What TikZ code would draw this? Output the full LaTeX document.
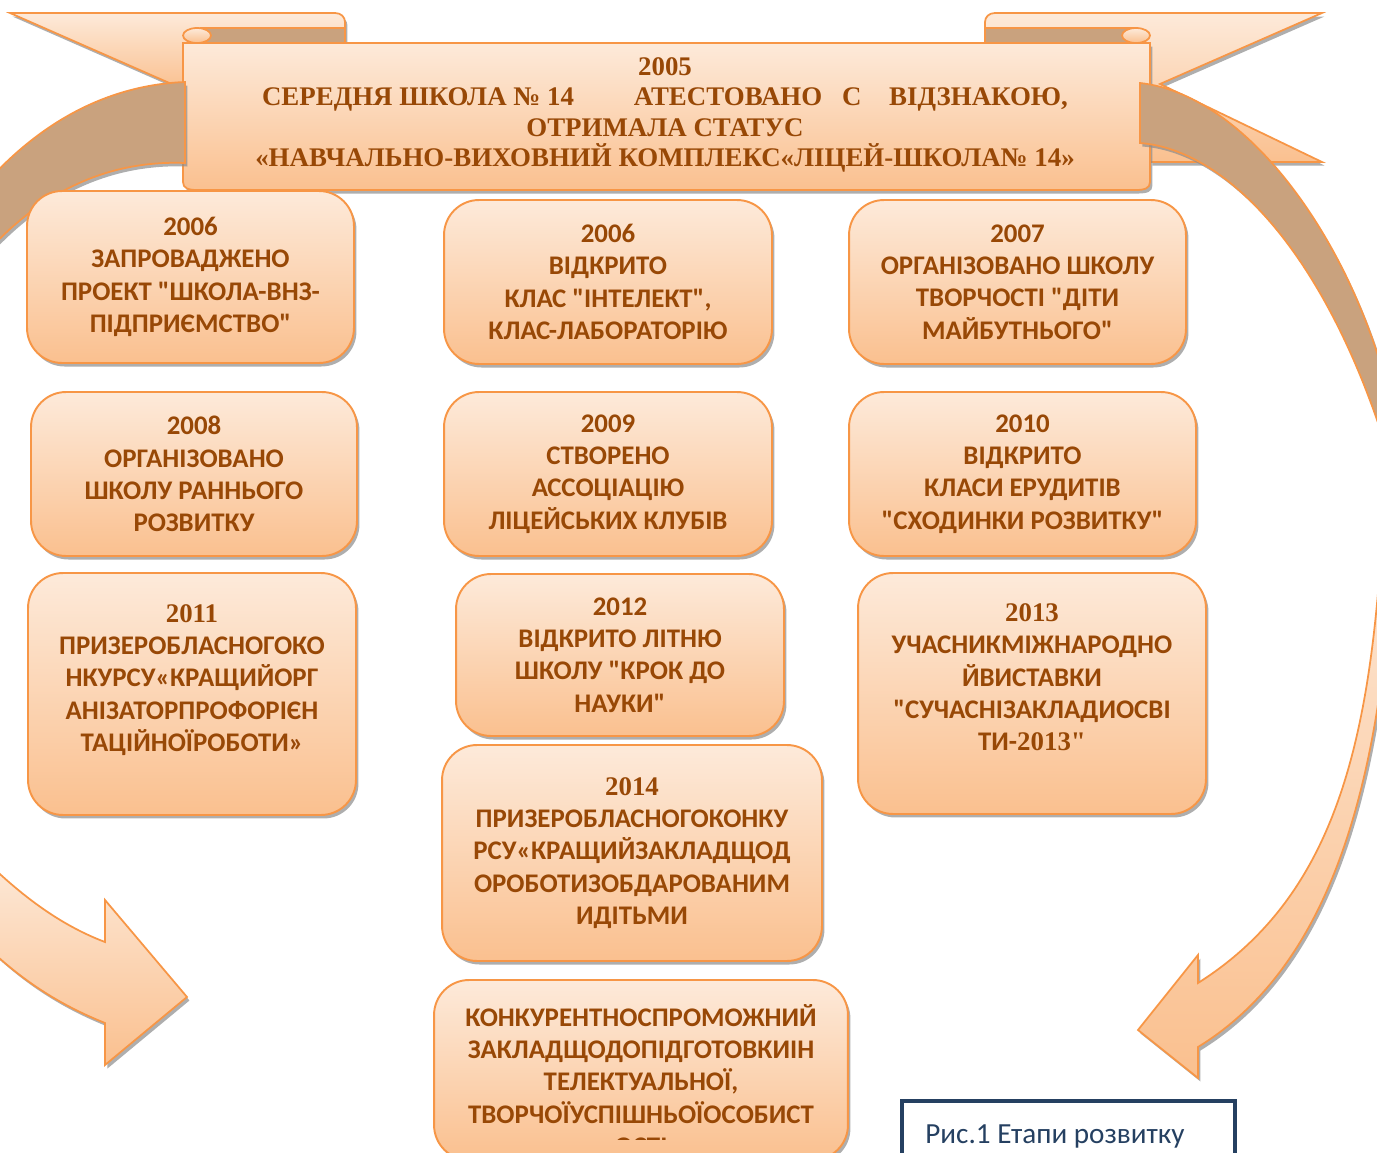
\documentclass[tikz,border=0pt]{standalone}
\usepackage{fontspec}
\setmainfont{Carlito}[Ligatures=TeXOff]
\newfontfamily\yearfont{Liberation Serif}[Ligatures=TeXOff]
\usetikzlibrary{positioning,shadows}

\definecolor{peach}{HTML}{FDEADA}
\definecolor{apricot}{HTML}{FAC08F}
\definecolor{rim}{HTML}{F79646}
\definecolor{tan}{HTML}{C9A27E}
\definecolor{rust}{HTML}{984806}
\definecolor{navy}{HTML}{254061}

\begin{document}
\begin{tikzpicture}[x=0.02cm,y=-0.02cm,
    castshadow/.style={drop shadow={shadow xshift=1.4pt,shadow yshift=-2pt,fill=black!45,opacity=.7}},
    ribbon/.style={draw=rim,line width=1pt,top color=peach,bottom color=apricot},
    fold/.style={draw=rim,line width=1pt,fill=tan},
    stage/.style={rectangle,rounded corners=0.7cm,draw=rim,line width=1.1pt,
      top color=peach,bottom color=apricot,castshadow,inner sep=0pt,
      align=center,text=rust,font=\fontsize{15.3}{18.4}\selectfont\bfseries}]

  \useasboundingbox (0,0) rectangle (1377,1153);
  \clip (0,0) rectangle (1377,1153);

  % ribbon tails and folds behind the banner
  \draw[ribbon,castshadow] (10,13) -- (335,13) .. controls (341,13) and (345,17) .. (345,22)
    -- (345,43) -- (183,43) -- (183,89) -- cycle;
  \draw[ribbon,castshadow] (995,13) -- (1322,13) -- (1160,84) -- (1322,162) -- (1150,162)
    -- (1150,43) -- (985,43) -- (985,22) .. controls (985,17) and (989,13) .. (995,13) -- cycle;
  \draw[fold] (200,28) -- (345,28) -- (345,43) -- (200,43);
  \draw[fold] (1136,28) -- (985,28) -- (985,43) -- (1136,43);

  % banner
  \draw[ribbon,castshadow] (183,43) -- (1150,43) -- (1150,182) .. controls (1150,188) and (1145,190) .. (1136,190)
    -- (197,190) .. controls (188,190) and (183,188) .. (183,182) -- cycle;
  \draw[ribbon] (197,35.5) ellipse [x radius=14, y radius=7.5];
  \draw[ribbon] (1136,35.5) ellipse [x radius=14, y radius=7.5];
  \node[text=rust,align=center,font=\yearfont\fontsize{15.3}{17.2}\selectfont\bfseries] (banner) at (665,115)
    {2005\\
     СЕРЕДНЯ ШКОЛА № 14\hspace{1.2cm}АТЕСТОВАНО\hspace{0.4cm}С\hspace{0.55cm}ВІДЗНАКОЮ,\\
     ОТРИМАЛА СТАТУС\\
     «НАВЧАЛЬНО-ВИХОВНИЙ КОМПЛЕКС«ЛІЦЕЙ-ШКОЛА№ 14»};

  % curved arrows
  \draw[fold,castshadow] (185,82) .. controls (110,85) and (40,120) .. (-20,190)
    -- (-20,260) .. controls (40,190) and (110,160) .. (185,163) -- cycle;
  \draw[fold,castshadow] (1140,83) .. controls (1250,95) and (1360,250) .. (1395,420)
    -- (1390,460) .. controls (1330,260) and (1230,150) .. (1140,143) -- cycle;
  \draw[ribbon,castshadow] (-20,855) .. controls (20,895) and (60,925) .. (105,942) -- (105,900)
    -- (187,997) -- (105,1065) -- (105,1023) .. controls (60,1005) and (20,980) .. (-20,940) -- cycle;
  \draw[ribbon,castshadow] (1385,480) .. controls (1375,720) and (1345,890) .. (1198,983) -- (1198,955)
    -- (1138,1030) -- (1198,1078) -- (1198,1047) .. controls (1340,960) and (1385,760) .. (1395,520) -- cycle;

  % stages
  \node[stage,minimum width=6.54cm,minimum height=3.44cm] (s2006a) at (190.5,277)
    {2006\\ЗАПРОВАДЖЕНО\\ПРОЕКТ "ШКОЛА-ВНЗ-\\ПІДПРИЄМСТВО"};
  \node[stage,minimum width=6.56cm,minimum height=3.28cm] (s2006b) at (608,282)
    {2006\\ВІДКРИТО\\КЛАС "ІНТЕЛЕКТ",\\КЛАС-ЛАБОРАТОРІЮ};
  \node[stage,minimum width=6.74cm,minimum height=3.28cm] (s2007) at (1017.5,282)
    {2007\\ОРГАНІЗОВАНО ШКОЛУ\\ТВОРЧОСТІ "ДІТИ\\МАЙБУТНЬОГО"};
  \node[stage,minimum width=6.52cm,minimum height=3.28cm] (s2008) at (194,474)
    {2008\\ОРГАНІЗОВАНО\\ШКОЛУ РАННЬОГО\\РОЗВИТКУ};
  \node[stage,minimum width=6.56cm,minimum height=3.28cm] (s2009) at (608,474)
    {2009\\СТВОРЕНО\\АССОЦІАЦІЮ\\ЛІЦЕЙСЬКИХ КЛУБІВ};
  \node[stage,minimum width=6.94cm,minimum height=3.28cm] (s2010) at (1022.5,474)
    {2010\\ВІДКРИТО\\КЛАСИ ЕРУДИТІВ\\"СХОДИНКИ РОЗВИТКУ"};
  \node[stage,minimum width=6.56cm,minimum height=4.84cm] (s2011) at (192,694)
    {{\yearfont 2011}\\ПРИЗЕРОБЛАСНОГОКО\\НКУРСУ«КРАЩИЙОРГ\\АНІЗАТОРПРОФОРІЄН\\ТАЦІЙНОЇРОБОТИ»\\\mbox{}};
  \node[stage,minimum width=6.56cm,minimum height=3.24cm] (s2012) at (620,655)
    {2012\\ВІДКРИТО ЛІТНЮ\\ШКОЛУ "КРОК ДО\\НАУКИ"};
  \node[stage,minimum width=6.96cm,minimum height=4.82cm] (s2013) at (1032,693.5)
    {{\yearfont 2013}\\УЧАСНИКМІЖНАРОДНО\\ЙВИСТАВКИ\\"СУЧАСНІЗАКЛАДИОСВІ\\ТИ-{\yearfont 2013"}\\\mbox{}};
  \node[stage,minimum width=7.6cm,minimum height=4.32cm] (s2014) at (632,853)
    {{\yearfont 2014}\\ПРИЗЕРОБЛАСНОГОКОНКУ\\РСУ«КРАЩИЙЗАКЛАДЩОД\\ОРОБОТИЗОБДАРОВАНИМ\\ИДІТЬМИ};
  \node[stage,minimum width=8.28cm,minimum height=3.6cm] (goal) at (641,1070) {};
  \begin{scope}
    \clip (434,980) rectangle (848,1139);
    \node[align=center,text=rust,font=\fontsize{15.3}{18.4}\selectfont\bfseries] (goaltext) at (641,1080)
      {КОНКУРЕНТНОСПРОМОЖНИЙ\\ЗАКЛАДЩОДОПІДГОТОВКИІН\\ТЕЛЕКТУАЛЬНОЇ,\\ТВОРЧОЇУСПІШНЬОЇОСОБИСТ\\ОСТІ};
  \end{scope}

  % caption
  \draw[navy,line width=2.2pt] (902,1200) -- (902,1101) -- (1235,1101) -- (1235,1200);
  \node[anchor=base west,text=navy,font=\fontsize{16.6}{19}\selectfont,inner sep=0pt] (caption) at (925,1143)
    {Рис.1 Етапи розвитку};
\end{tikzpicture}
\end{document}
